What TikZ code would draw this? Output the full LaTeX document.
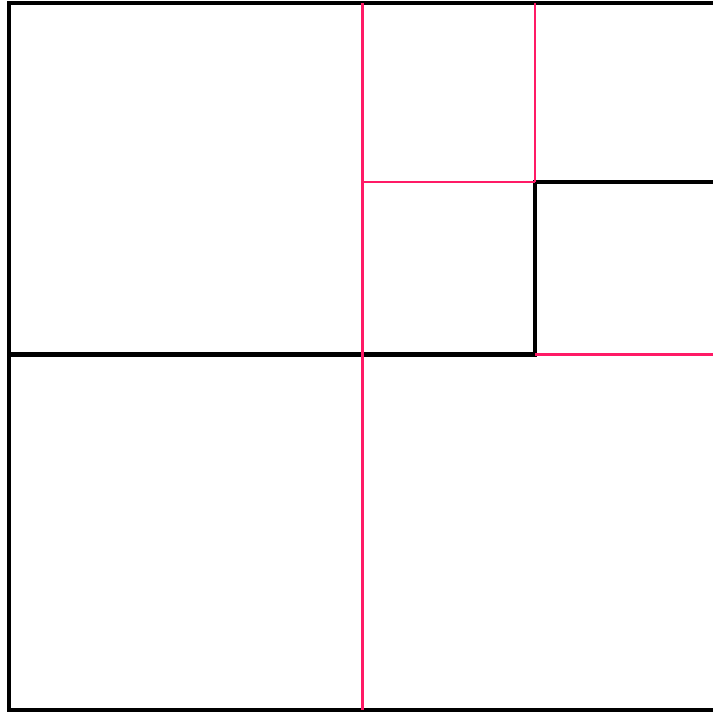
\documentclass[tikz,border=0pt]{standalone}
\usetikzlibrary{calc}
\definecolor{cpink}{HTML}{FF1A66}
\definecolor{cblack}{HTML}{000000}
\tikzset{
  wall/.style={draw=cblack, line width=2.3pt, line join=miter},
  split/.style={draw=cpink, line width=1.15pt},
}
\begin{document}
\begin{tikzpicture}[x=0.02cm, y=-0.02cm]
  \useasboundingbox (0,0) rectangle (713,712);
  \clip (0,0) rectangle (713,712);
  % corners of the outer square (runs past the right edge)
  \coordinate (tl) at (9,3);
  \coordinate (bl) at (9,710);
  \coordinate (tr) at (730,3);
  \coordinate (br) at (730,710);
  % inner points
  \coordinate (ml) at (9,354.5);
  \coordinate (c) at (535,354.5);
  \coordinate (q) at (535,182);
  \coordinate (qr) at (730,182);
  \coordinate (mr) at (730,354.5);
  \coordinate (mt) at (362.5,3);
  \coordinate (mb) at (362.5,710);
  \coordinate (mq) at (362.5,182);
  \coordinate (qt) at (535,3);
  % black walls
  \draw[wall] (tr) -- (tl) -- (bl) -- (br);
  \draw[wall] (ml) -- (c) -- (q) -- (qr);
  % pink splits
  \draw[split] (mt) -- (mb);
  \draw[split] (mq) -- (q);
  \draw[split] (qt) -- (q);
  \draw[split] (c) -- (mr);
\end{tikzpicture}
\end{document}
